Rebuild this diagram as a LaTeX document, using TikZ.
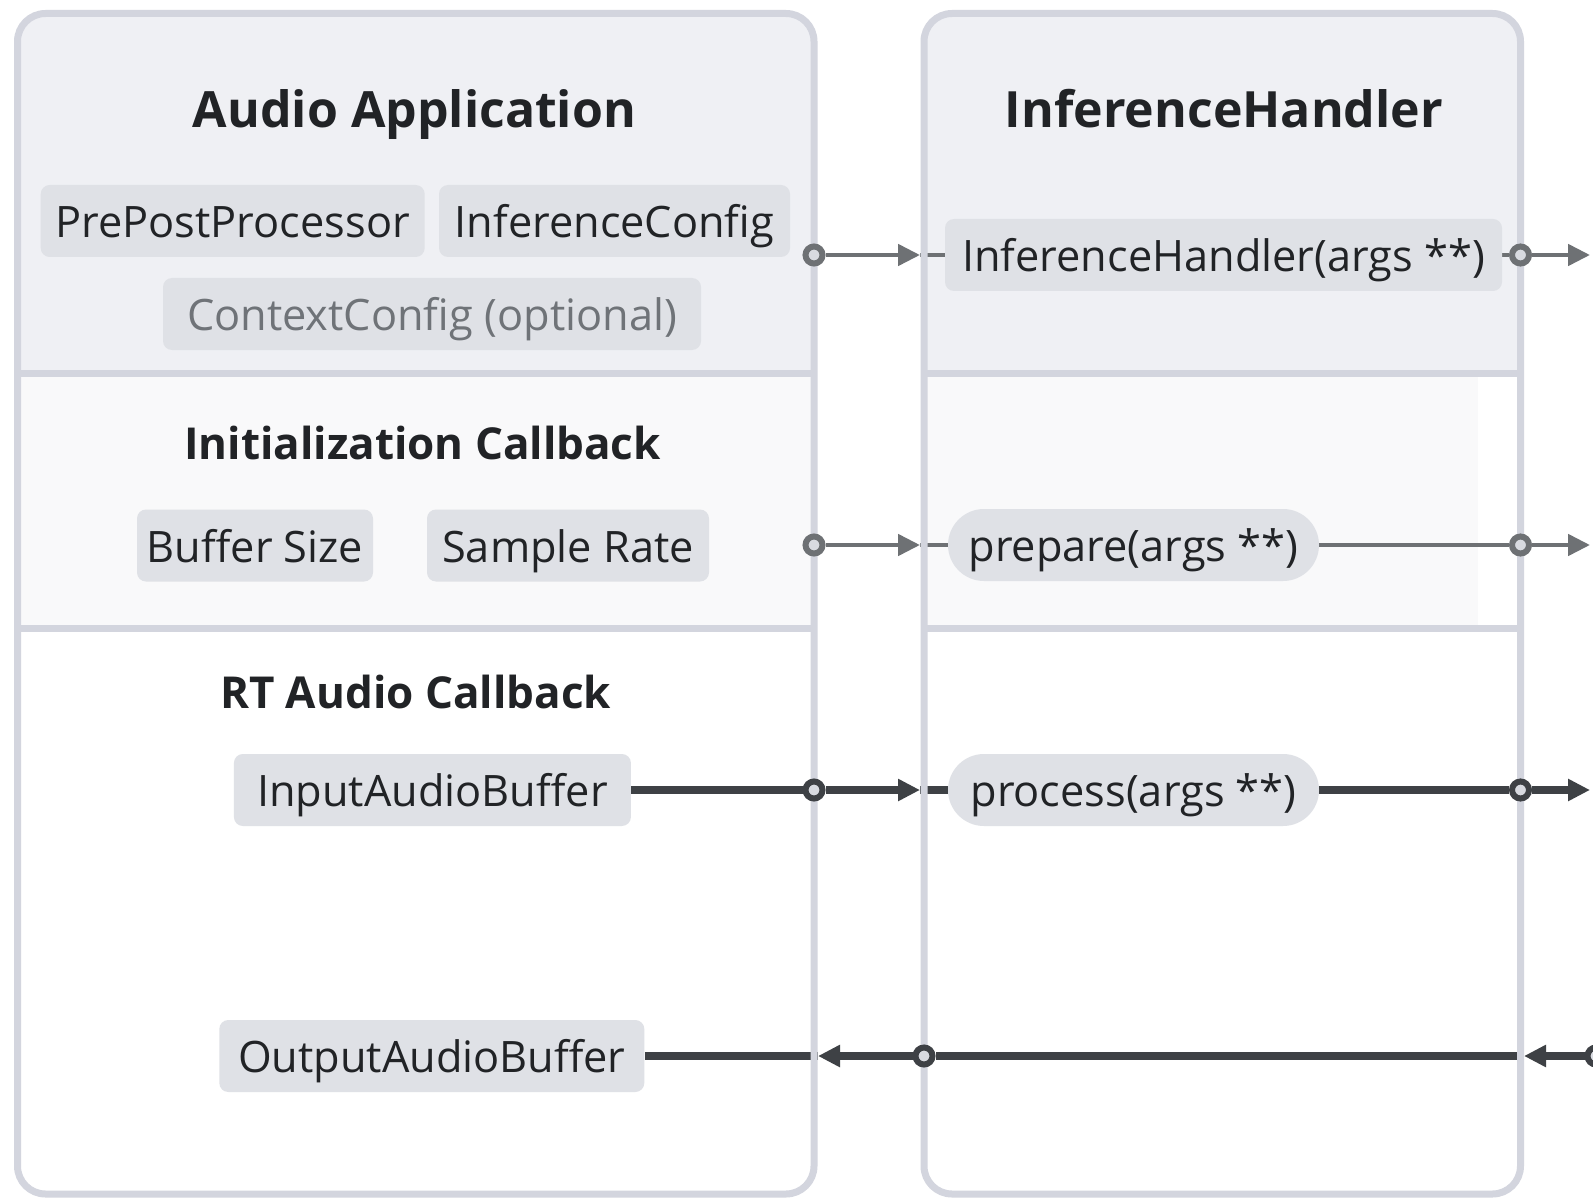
\documentclass[tikz,border=0pt]{standalone}
\usepackage{fontspec}
\setmainfont{Open Sans}
\usetikzlibrary{arrows.meta}
\definecolor{framec}{HTML}{D3D5DE}
\definecolor{topfill}{HTML}{EFF0F4}
\definecolor{midfill}{HTML}{F9F9FA}
\definecolor{chipfill}{HTML}{DFE1E6}
\definecolor{inkc}{HTML}{212326}
\definecolor{mutedc}{HTML}{6F7378}
\definecolor{wiregray}{HTML}{6E7174}
\definecolor{wiredark}{HTML}{3E4145}
\definecolor{portfill}{HTML}{D8DAE0}
\pgfdeclarelayer{fills}
\pgfdeclarelayer{wires}
\pgfdeclarelayer{frames}
\pgfsetlayers{fills,wires,frames,main}
\begin{document}
\begin{tikzpicture}[x=1pt,y=-1pt,
  chip/.style={fill=chipfill, rounded corners=9pt, inner sep=0pt, minimum height=72pt,
    text height=45pt, text depth=12pt,
    text=inkc, font=\fontsize{43.3}{52}\selectfont},
  pill/.style={chip, rounded corners=36pt},
  title/.style={text=inkc, font=\fontsize{50}{60}\selectfont\bfseries, inner sep=0pt,
    text height=50pt, text depth=14pt},
  subtitle/.style={text=inkc, font=\fontsize{44}{54}\selectfont\bfseries, inner sep=0pt,
    text height=45pt, text depth=12pt},
  frameline/.style={draw=framec, line width=7pt},
  thinwire/.style={draw=wiregray, line width=4.7pt},
  thickwire/.style={draw=wiredark, line width=7.5pt},
  tipg/.style={-{Triangle[length=22pt,width=21pt]}},
  port/.style={circle, fill=portfill, line width=6pt, minimum size=17pt, inner sep=0pt},
  portg/.style={port, draw=wiregray},
  portd/.style={port, draw=wiredark},
]
\clip (0,0) rectangle (1593,1198);

% page ground and section backgrounds of both columns
\begin{pgfonlayer}{fills}
  \fill[white] (0,0) rectangle (1593,1198);
  \begin{scope}
    \clip[rounded corners=28pt] (17.5,13.5) rectangle (814,1194);
    \fill[topfill] (17.5,13.5) rectangle (814,373.5);
    \fill[midfill] (17.5,373.5) rectangle (814,628);
  \end{scope}
  \begin{scope}
    \clip[rounded corners=28pt] (924,13.5) rectangle (1520.5,1194);
    \fill[topfill] (924,13.5) rectangle (1520.5,373.5);
    \fill[midfill] (924,373.5) rectangle (1478,628);
  \end{scope}
\end{pgfonlayer}

% column frames and section separators
\begin{pgfonlayer}{frames}
  \draw[frameline, rounded corners=28pt] (17.5,13.5) rectangle (814,1194);
  \draw[frameline, rounded corners=28pt] (924,13.5) rectangle (1520.5,1194);
  \draw[frameline] (17.5,373.5) -- (814,373.5);
  \draw[frameline] (17.5,628) -- (814,628);
  \draw[frameline] (924,373.5) -- (1520.5,373.5);
  \draw[frameline] (924,628) -- (1520.5,628);
\end{pgfonlayer}

% titles
\node[title] (tapp) at (414.5,110) {Audio Application};
\node[title] (tinf) at (1224,110) {InferenceHandler};
\node[subtitle] (tinit) at (422.6,443) {Initialization Callback};
\node[subtitle] (trt) at (415.5,692) {RT Audio Callback};

% items
\node[chip, minimum width=384pt] (ppp) at (232.7,221) {PrePostProcessor};
\node[chip, minimum width=351pt] (icfg) at (614.5,221) {InferenceConfig};
\node[chip, minimum width=538pt, text=mutedc] (ctx) at (432,314) {ContextConfig (optional)};
\node[chip, minimum width=557pt] (ih) at (1223.5,255) {InferenceHandler(args **)};
\node[chip, minimum width=236pt] (bsz) at (255,545.5) {Buffer Size};
\node[chip, minimum width=282pt] (srate) at (568,545.5) {Sample Rate};
\node[pill, minimum width=371pt] (prep) at (1133.5,545) {prepare(args **)};
\node[chip, minimum width=397pt] (inbuf) at (432.4,790) {InputAudioBuffer};
\node[pill, minimum width=371pt] (proc) at (1133.5,790) {process(args **)};
\node[chip, minimum width=425pt] (outbuf) at (431.8,1056) {OutputAudioBuffer};

% ports on the column borders
\node[portg] (c1L) at (814,255) {};
\node[portg] (c1R) at (1520.5,255) {};
\node[portg] (c2L) at (814,545) {};
\node[portg] (c2R) at (1520.5,545) {};
\node[portd] (c3L) at (814,790) {};
\node[portd] (c3R) at (1520.5,790) {};
\node[portd] (c4M) at (924,1056) {};
\node[portd] (c4R) at (1596,1056) {};

\coordinate (a1) at (920,255);
\coordinate (e1) at (1590,255);
\coordinate (a2) at (920,545);
\coordinate (e2) at (1590,545);
\coordinate (a3) at (920,790);
\coordinate (e3) at (1590,790);
\coordinate (a4R) at (1524,1056);
\coordinate (a4L) at (818,1056);

% connectors
\begin{pgfonlayer}{wires}
  \draw[thinwire, tipg] (c1L) -- (a1);
  \draw[thinwire] (a1) -- (ih.west);
  \draw[thinwire] (ih.east) -- (c1R);
  \draw[thinwire, tipg] (c1R) -- (e1);

  \draw[thinwire, tipg] (c2L) -- (a2);
  \draw[thinwire] (a2) -- (prep.west);
  \draw[thinwire] (prep.east) -- (c2R);
  \draw[thinwire, tipg] (c2R) -- (e2);

  \draw[thickwire] (inbuf.east) -- (c3L);
  \draw[thickwire, tipg] (c3L) -- (a3);
  \draw[thickwire] (a3) -- (proc.west);
  \draw[thickwire] (proc.east) -- (c3R);
  \draw[thickwire, tipg] (c3R) -- (e3);

  \draw[thickwire, tipg] (c4R) -- (a4R);
  \draw[thickwire] (a4R) -- (c4M);
  \draw[thickwire, tipg] (c4M) -- (a4L);
  \draw[thickwire] (a4L) -- (outbuf.east);
\end{pgfonlayer}
\end{tikzpicture}
\end{document}
